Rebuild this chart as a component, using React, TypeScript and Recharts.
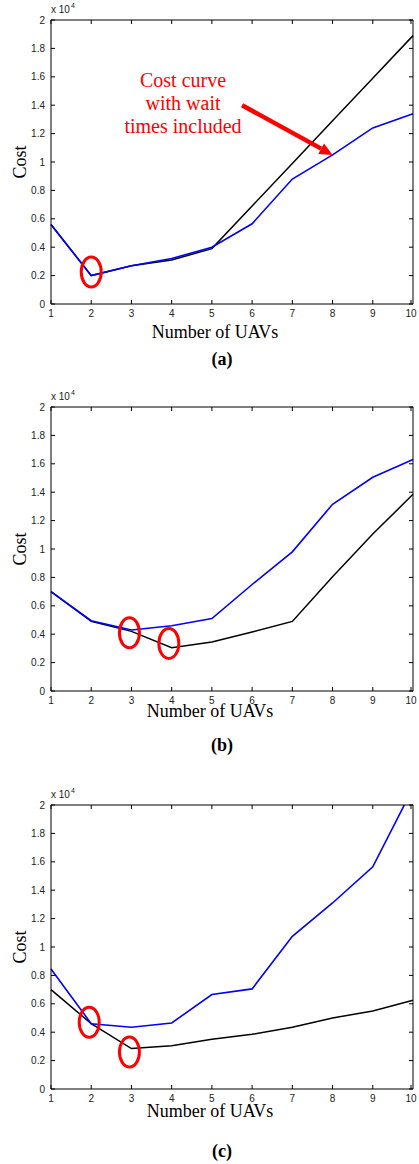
import { LineChart, Line, XAxis, YAxis, ReferenceDot, ReferenceLine } from "recharts";

const uavs = [1, 2, 3, 4, 5, 6, 7, 8, 9, 10];
const yTicks = [0, 2000, 4000, 6000, 8000, 10000, 12000, 14000, 16000, 18000, 20000];

// cost without / with wait times, per panel
const costA = [5600, 2000, 2700, 3100, 3900, 6900, 9900, 12900, 15900, 18900];
const costWaitA = [5600, 2000, 2700, 3200, 4000, 5650, 8800, 10500, 12400, 13400];
const costB = [7000, 4900, 4200, 3050, 3450, 4150, 4900, 8050, 11050, 13850];
const costWaitB = [7000, 4950, 4300, 4600, 5100, 7500, 9800, 13150, 15050, 16300];
const costC = [7000, 4600, 2850, 3050, 3500, 3850, 4350, 5000, 5500, 6250];
const costWaitC = [8450, 4600, 4350, 4650, 6650, 7050, 10750, 13100, 15650, 21200];

// circled minima
const minimaA = [{ x: 2, y: 2250 }];
const minimaB = [{ x: 2.95, y: 4100 }, { x: 3.93, y: 3350 }];
const minimaC = [{ x: 1.95, y: 4700 }, { x: 2.95, y: 2600 }];

const arrowA = [{ x: 5.75, y: 14000 }, { x: 8, y: 10500 }];
const noteLines = ["Cost curve", "with wait", "times included"];

const sans = "'Liberation Sans', Arial, sans-serif";
const serif = "'Liberation Serif', 'Times New Roman', serif";
const W = 419;
const PLOT_TOP = 20;
const PLOT_H = 284;
const LEFT = 51;
const RIGHT = 6;
const Y_W = 40;
const X_H = 20;

const BottomTick = (p: any) => (
  <g>
    <line x1={p.x} y1={p.y} x2={p.x} y2={p.y - 4} stroke="#000" />
    <text x={p.x} y={p.y + 12.5} textAnchor="middle" fontSize={10} fill="#222" fontFamily={sans}>
      {p.payload.value}
    </text>
  </g>
);
const TopTick = (p: any) => <line x1={p.x} y1={p.y} x2={p.x} y2={p.y + 4} stroke="#000" />;
const LeftTick = (p: any) => (
  <g>
    <line x1={p.x} y1={p.y} x2={p.x + 4} y2={p.y} stroke="#000" />
    <text x={p.x - 6} y={p.y + 3.5} textAnchor="end" fontSize={10} fill="#222" fontFamily={sans}>
      {String(p.payload.value / 10000)}
    </text>
  </g>
);
const RightTick = (p: any) => <line x1={p.x} y1={p.y} x2={p.x - 4} y2={p.y} stroke="#000" />;

const Ellipse = (p: any) => (
  <ellipse cx={p.cx} cy={p.cy} rx={10} ry={15} fill="none" stroke="#ff0000" strokeWidth={3} />
);

const Arrow = (p: any) => {
  const dx = p.x2 - p.x1;
  const dy = p.y2 - p.y1;
  const len = Math.sqrt(dx * dx + dy * dy);
  const ux = dx / len;
  const uy = dy / len;
  const bx = p.x2 - ux * 13;
  const by = p.y2 - uy * 13;
  const pts = `${p.x2},${p.y2} ${bx - uy * 6},${by + ux * 6} ${bx + uy * 6},${by - ux * 6}`;
  return (
    <g>
      <line x1={p.x1} y1={p.y1} x2={bx} y2={by} stroke="#ff0000" strokeWidth={4.5} />
      <polygon points={pts} fill="#ff0000" />
    </g>
  );
};

function Panel({
  top,
  height,
  cost,
  costWait,
  minima,
  caption,
  xLabelDy,
  xLabelX,
  captionDy,
  arrow,
  note,
}: {
  top: number;
  height: number;
  cost: number[];
  costWait: number[];
  minima: { x: number; y: number }[];
  caption: string;
  xLabelDy: number;
  xLabelX: number;
  captionDy: number;
  arrow?: { x: number; y: number }[];
  note?: string[];
}) {
  const rows = uavs.map((n, i) => ({ n, cost: cost[i], wait: costWait[i] }));
  const bottom = PLOT_TOP + PLOT_H;
  return (
    <div style={{ position: "absolute", top, left: 0, width: W, height }}>
      <LineChart
        width={W}
        height={height}
        data={rows}
        margin={{ top: PLOT_TOP - 1, left: LEFT - Y_W, right: RIGHT - 1, bottom: height - bottom - X_H }}
      >
        <XAxis
          dataKey="n"
          type="number"
          domain={[1, 10]}
          ticks={uavs}
          height={X_H}
          tickSize={0}
          tickMargin={0}
          tickLine={false}
          tick={BottomTick}
          axisLine={{ stroke: "#000" }}
        />
        <XAxis
          xAxisId="top"
          orientation="top"
          dataKey="n"
          type="number"
          domain={[1, 10]}
          ticks={uavs}
          height={1}
          tickSize={0}
          tickMargin={0}
          tickLine={false}
          tick={TopTick}
          axisLine={{ stroke: "#000" }}
        />
        <YAxis
          type="number"
          domain={[0, 20000]}
          ticks={yTicks}
          allowDataOverflow
          width={Y_W}
          tickSize={0}
          tickMargin={0}
          tickLine={false}
          tick={LeftTick}
          axisLine={{ stroke: "#000" }}
        />
        <YAxis
          yAxisId="right"
          orientation="right"
          type="number"
          domain={[0, 20000]}
          ticks={yTicks}
          allowDataOverflow
          width={1}
          tickSize={0}
          tickMargin={0}
          tickLine={false}
          tick={RightTick}
          axisLine={{ stroke: "#000" }}
        />
        <Line type="linear" dataKey="cost" stroke="#000" strokeWidth={1.5} dot={false} isAnimationActive={false} />
        <Line type="linear" dataKey="wait" stroke="#0000ff" strokeWidth={1.6} dot={false} isAnimationActive={false} />
        {minima.map((m, i) => (
          <ReferenceDot key={i} x={m.x} y={m.y} r={10} shape={Ellipse} ifOverflow="visible" />
        ))}
        {arrow && <ReferenceLine segment={arrow} shape={Arrow} ifOverflow="visible" />}
      </LineChart>
      <svg
        width={W}
        height={height}
        style={{ position: "absolute", top: 0, left: 0, pointerEvents: "none" }}
      >
        <text x={LEFT} y={PLOT_TOP - 7} fontSize={10} fill="#222" fontFamily={sans}>
          x 10
          <tspan dx={1} dy={-5} fontSize={7}>
            4
          </tspan>
        </text>
        <text
          transform={`translate(26, ${PLOT_TOP + PLOT_H / 2}) rotate(-90)`}
          textAnchor="middle"
          fontSize={18}
          fontFamily={serif}
          fill="#000"
        >
          Cost
        </text>
        <text x={xLabelX} y={bottom + xLabelDy} textAnchor="middle" fontSize={18} fontFamily={serif} fill="#000">
          Number of UAVs
        </text>
        <text
          x={222}
          y={bottom + captionDy}
          textAnchor="middle"
          fontSize={18}
          fontWeight="bold"
          fontFamily={serif}
          fill="#000"
        >
          {caption}
        </text>
        {note &&
          note.map((t, i) => (
            <text key={i} x={183} y={87 + i * 23} textAnchor="middle" fontSize={20} fontFamily={serif} fill="#ff0000">
              {t}
            </text>
          ))}
      </svg>
    </div>
  );
}

export default function App() {
  return (
    <div style={{ position: "absolute", top: 0, left: 0, width: W, height: 1164, overflow: "hidden", background: "#fff" }}>
      <Panel
        top={0}
        height={387}
        cost={costA}
        costWait={costWaitA}
        minima={minimaA}
        caption="(a)"
        xLabelDy={34}
        xLabelX={215}
        captionDy={61}
        arrow={arrowA}
        note={noteLines}
      />
      <Panel
        top={387}
        height={398}
        cost={costB}
        costWait={costWaitB}
        minima={minimaB}
        caption="(b)"
        xLabelDy={26}
        xLabelX={210}
        captionDy={60}
      />
      <Panel
        top={785}
        height={379}
        cost={costC}
        costWait={costWaitC}
        minima={minimaC}
        caption="(c)"
        xLabelDy={27.5}
        xLabelX={210}
        captionDy={68}
      />
    </div>
  );
}
